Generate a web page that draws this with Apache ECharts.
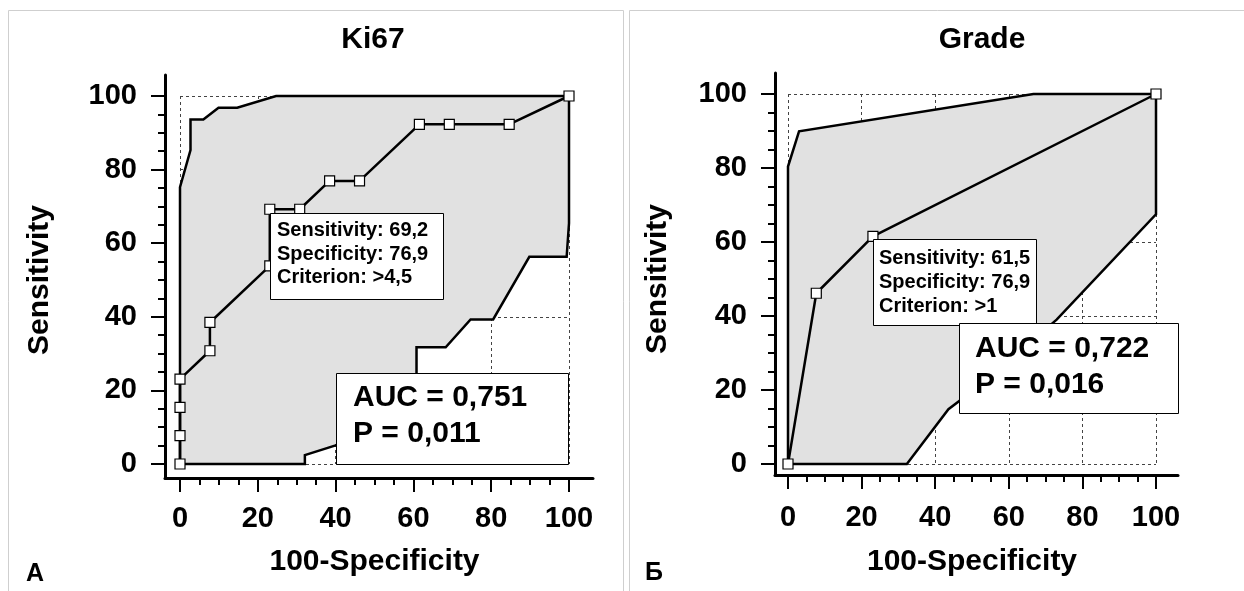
<!DOCTYPE html>
<html>
<head>
<meta charset="utf-8">
<title>ROC: Ki67 / Grade</title>
<script src="https://cdn.jsdelivr.net/npm/echarts@6.0.0/dist/echarts.min.js"></script>
<style>
    html, body { margin: 0; padding: 0; background: #fff; }
    #chart { width: 1244px; height: 591px; }
</style>
</head>
<body>
<div id="chart"></div>
<script>
(function (window, echarts) {
    'use strict';

    // Ki67 roc curve: 100-specificity vs sensitivity
    const ki67Fpr  = [0, 0, 0, 0, 7.69, 7.69, 23.08, 23.08, 30.77, 38.46, 46.15, 61.54, 69.23, 84.62, 100];
    const ki67Sens = [0, 7.69, 15.38, 23.08, 30.77, 38.46, 53.85, 69.23, 69.23, 76.92, 76.92, 92.31, 92.31, 92.31, 100];

    // Ki67 confidence band, upper edge then lower edge
    const ki67Upper = [[0, 0], [0, 75.2], [2.7, 85.3], [2.7, 93.6], [6.0, 93.6], [9.9, 96.8], [14.7, 96.8], [24.7, 100], [100, 100]];
    const ki67Lower = [[100, 100], [100, 65.4], [99.4, 56.3], [89.8, 56.3], [80.5, 39.3], [74.7, 39.3], [68.3, 31.7],
        [60.8, 31.7], [60.8, 23.1], [46.2, 7.7], [39.8, 5.0], [32.1, 2.4], [32.1, 0], [0, 0]];

    // Grade roc curve
    const gradeFpr  = [0, 7.69, 23.08, 100];
    const gradeSens = [0, 46.15, 61.54, 100];

    // Grade confidence band
    const gradeUpper = [[0, 0], [0, 80.4], [3.0, 89.9], [66.7, 100], [100, 100]];
    const gradeLower = [[100, 100], [100, 67.5], [73.0, 39.0], [53.8, 22.5], [43.6, 14.8], [32.3, 0], [0, 0]];

    const titles = ['Ki67', 'Grade'];
    const panelLetters = ['А', 'Б'];
    const xName = '100-Specificity';
    const yName = 'Sensitivity';
    const criterionTexts = [
        'Sensitivity: 69,2\nSpecificity: 76,9\nCriterion: >4,5',
        'Sensitivity: 61,5\nSpecificity: 76,9\nCriterion: >1'
    ];
    const aucTexts = [
        'AUC = 0,751\nP = 0,011',
        'AUC = 0,722\nP = 0,016'
    ];

    const FONT = '"Liberation Sans", Arial, sans-serif';
    const TOP_Z = 100;

    const zip = (xs, ys) => xs.map((x, i) => [x, ys[i]]);

    // thick axis lines drawn on a slightly larger frame grid
    function frameAxis(gridIndex) {
        return {
            type: 'value', gridIndex: gridIndex, min: 0, max: 1,
            axisLine: { show: true, onZero: false, lineStyle: { color: '#000', width: 3 } },
            axisTick: { show: false },
            axisLabel: { show: false },
            splitLine: { show: false }
        };
    }

    // data axis: ticks are pushed out onto the frame line with offset
    function plotAxis(gridIndex, name, offset, labelMargin, nameGap) {
        return {
            type: 'value', gridIndex: gridIndex, min: 0, max: 100, interval: 20,
            offset: offset,
            axisLine: { show: false, onZero: false },
            axisTick: { show: true, length: 14, lineStyle: { color: '#000', width: 2 } },
            minorTick: { show: true, splitNumber: 4, length: 7, lineStyle: { color: '#000', width: 2 } },
            axisLabel: { margin: labelMargin, fontSize: 29, fontWeight: 'bold', color: '#000', fontFamily: FONT },
            splitLine: { show: true, lineStyle: { color: '#444', width: 1, type: [3, 3] } },
            name: name,
            nameLocation: 'middle',
            nameGap: nameGap,
            nameTextStyle: { fontSize: 30, fontWeight: 'bold', color: '#000', fontFamily: FONT }
        };
    }

    function bandSeries(axisIndex, points) {
        return {
            type: 'custom',
            xAxisIndex: axisIndex, yAxisIndex: axisIndex,
            data: [0],
            silent: true,
            z: 1,
            renderItem: function (params, api) {
                return {
                    type: 'polygon',
                    shape: { points: points.map(p => api.coord(p)) },
                    style: { fill: '#e1e1e1', stroke: '#000', lineWidth: 2.5 }
                };
            }
        };
    }

    function rocSeries(axisIndex, xs, ys) {
        return {
            type: 'line',
            xAxisIndex: axisIndex, yAxisIndex: axisIndex,
            data: zip(xs, ys),
            clip: false,
            symbol: 'rect',
            symbolSize: 10,
            showAllSymbol: true,
            lineStyle: { color: '#000', width: 2.5 },
            itemStyle: { color: '#fff', borderColor: '#000', borderWidth: 1.2 },
            z: 3
        };
    }

    // white annotation box with bold text, above all series
    function textBox(x, y, w, h, text, tx, ty, size, lineHeight) {
        return [
            {
                type: 'rect', z: TOP_Z,
                shape: { x: x + 0.5, y: y + 0.5, width: w, height: h },
                style: { fill: '#fff', stroke: '#000', lineWidth: 1 }
            },
            {
                type: 'text', z: TOP_Z + 1,
                x: tx, y: ty,
                style: {
                    text: text, fill: '#000', fontSize: size, fontWeight: 'bold',
                    fontFamily: FONT, lineHeight: lineHeight, verticalAlign: 'top'
                }
            }
        ];
    }

    function label(text, x, y, size) {
        return {
            type: 'text', x: x, y: y, z: TOP_Z,
            style: {
                text: text, fill: '#000', fontSize: size, fontWeight: 'bold', fontFamily: FONT,
                align: 'center', verticalAlign: 'middle'
            }
        };
    }

    const graphics = [
        // panel frames
        { type: 'rect', z: 0, shape: { x: 8.5, y: 10.5, width: 615, height: 600 },
            style: { fill: null, stroke: '#cfcfcf', lineWidth: 1 } },
        { type: 'rect', z: 0, shape: { x: 629.5, y: 10.5, width: 620, height: 600 },
            style: { fill: null, stroke: '#cfcfcf', lineWidth: 1 } },
        label(titles[0], 373, 40, 30),
        label(titles[1], 982, 40, 30),
        label(panelLetters[0], 35, 574, 25),
        label(panelLetters[1], 654, 573, 25)
    ].concat(
        textBox(270, 213, 173, 86, criterionTexts[0], 277, 219, 20, 23.5),
        textBox(336, 373, 232, 91, aucTexts[0], 353, 380, 30, 36),
        textBox(873, 239, 163, 86, criterionTexts[1], 879, 246, 20, 24),
        textBox(959, 323, 219, 90, aucTexts[1], 975, 331, 30, 36)
    );

    const options = {
        animation: false,
        backgroundColor: '#fff',
        grid: [
            { left: 165, top: 75, width: 428, height: 403, outerBoundsMode: 'none' },
            { left: 180, top: 96, width: 389, height: 368, outerBoundsMode: 'none' },
            { left: 775, top: 73, width: 403, height: 402, outerBoundsMode: 'none' },
            { left: 788, top: 94, width: 368, height: 370, outerBoundsMode: 'none' }
        ],
        xAxis: [
            frameAxis(0),
            plotAxis(1, xName, 14, 26, 69),
            frameAxis(2),
            plotAxis(3, xName, 11, 28, 72)
        ],
        yAxis: [
            frameAxis(0),
            plotAxis(1, yName, 15, 28, 110),
            frameAxis(2),
            plotAxis(3, yName, 13, 28, 102)
        ],
        series: [
            bandSeries(1, ki67Upper.concat(ki67Lower)),
            rocSeries(1, ki67Fpr, ki67Sens),
            bandSeries(3, gradeUpper.concat(gradeLower)),
            rocSeries(3, gradeFpr, gradeSens)
        ],
        graphic: { elements: graphics }
    };

    const chart = echarts.init(document.getElementById('chart'), null, { renderer: 'canvas' });
    chart.setOption(options);

})(window, echarts);
</script>
</body>
</html>
